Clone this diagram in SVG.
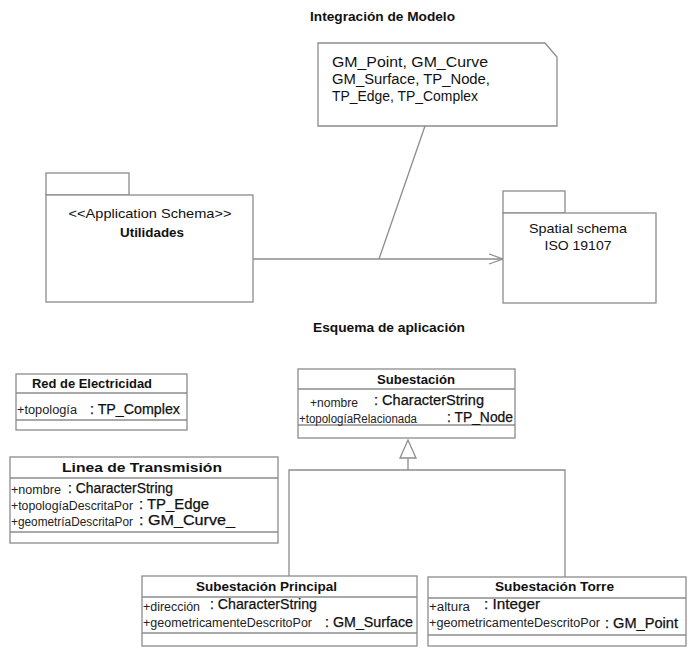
<svg xmlns="http://www.w3.org/2000/svg" width="696" height="655" viewBox="0 0 696 655">
<style>
.bx{fill:#fff;stroke:#8c8c8c;stroke-width:1.3}
.ln{fill:none;stroke:#8c8c8c;stroke-width:1.3}
text{font-family:"Liberation Sans",Arial,sans-serif;fill:#111}
.ttl{font-weight:bold;font-size:13px}
.ct{font-weight:bold;font-size:13px}
.nt{font-size:14px}
.pk{font-size:13px}
.at{font-size:12px;fill:#222}
.ty{font-size:14px;fill:#111;stroke:#111;stroke-width:0.25}
</style>
<defs>
<marker id="open" markerWidth="16" markerHeight="12" refX="15" refY="6" orient="auto" markerUnits="userSpaceOnUse">
<path d="M1,1 L15,6 L1,11" fill="none" stroke="#8c8c8c" stroke-width="1.3"/>
</marker>
</defs>
<rect width="696" height="655" fill="#fff"/>

<text class="ttl" x="310" y="21" textLength="145" lengthAdjust="spacingAndGlyphs">Integración de Modelo</text>
<text class="ttl" x="313" y="332" textLength="152" lengthAdjust="spacingAndGlyphs">Esquema de aplicación</text>

<g id="connectors">
<line class="ln" x1="253" y1="259" x2="503" y2="259" marker-end="url(#open)"/>
<line class="ln" x1="425" y1="126" x2="379" y2="259"/>
<polyline class="ln" points="408,458 408,470"/>
<polyline class="ln" points="289,576 289,470 565,470 565,577"/>
<polygon points="408,440 400,458 416,458" fill="#fff" stroke="#8c8c8c" stroke-width="1.3"/>
</g>

<g id="note">
<path class="bx" d="M318,43 H545 L557,57 V126 H318 Z"/>
<text class="nt" x="332" y="67" textLength="156" lengthAdjust="spacingAndGlyphs">GM_Point, GM_Curve</text>
<text class="nt" x="332" y="84" textLength="158" lengthAdjust="spacingAndGlyphs">GM_Surface, TP_Node,</text>
<text class="nt" x="332" y="101" textLength="146" lengthAdjust="spacingAndGlyphs">TP_Edge, TP_Complex</text>
</g>

<g id="utilidades">
<rect class="bx" x="46" y="173" width="83" height="22"/>
<rect class="bx" x="46" y="195" width="207" height="107"/>
<text class="pk" x="150" y="218" text-anchor="middle" textLength="163" lengthAdjust="spacingAndGlyphs">&lt;&lt;Application Schema&gt;&gt;</text>
<text class="ct" x="152" y="237" text-anchor="middle" textLength="64" lengthAdjust="spacingAndGlyphs">Utilidades</text>
</g>

<g id="spatial">
<rect class="bx" x="503" y="191" width="62" height="22"/>
<rect class="bx" x="503" y="213" width="153" height="90"/>
<text class="pk" x="578" y="233" text-anchor="middle" textLength="98" lengthAdjust="spacingAndGlyphs">Spatial schema</text>
<text class="pk" x="578" y="250" text-anchor="middle" textLength="67" lengthAdjust="spacingAndGlyphs">ISO 19107</text>
</g>

<g id="red">
<rect class="bx" x="16" y="374" width="171" height="56"/>
<line class="ln" x1="16" y1="393" x2="187" y2="393"/>
<line class="ln" x1="16" y1="420" x2="187" y2="420"/>
<text class="ct" x="32" y="388" textLength="120" lengthAdjust="spacingAndGlyphs">Red de Electricidad</text>
<text class="at" x="17" y="414" textLength="60" lengthAdjust="spacingAndGlyphs">+topología</text>
<text class="ty" x="90" y="414" textLength="90" lengthAdjust="spacingAndGlyphs">: TP_Complex</text>
</g>

<g id="subestacion">
<rect class="bx" x="298" y="369" width="217" height="69"/>
<line class="ln" x1="298" y1="389" x2="515" y2="389"/>
<line class="ln" x1="298" y1="425" x2="515" y2="425"/>
<text class="ct" x="377" y="384" textLength="78" lengthAdjust="spacingAndGlyphs">Subestación</text>
<text class="at" x="310" y="407" textLength="48" lengthAdjust="spacingAndGlyphs">+nombre</text>
<text class="ty" x="374" y="405" textLength="110" lengthAdjust="spacingAndGlyphs">: CharacterString</text>
<text class="at" x="299" y="423" textLength="118" lengthAdjust="spacingAndGlyphs">+topologíaRelacionada</text>
<text class="ty" x="447" y="422" textLength="66" lengthAdjust="spacingAndGlyphs">: TP_Node</text>
</g>

<g id="linea">
<rect class="bx" x="10" y="457" width="268" height="86"/>
<line class="ln" x1="10" y1="478" x2="278" y2="478"/>
<line class="ln" x1="10" y1="532" x2="278" y2="532"/>
<text class="ct" x="62" y="472" textLength="160" lengthAdjust="spacingAndGlyphs">Linea de Transmisión</text>
<text class="at" x="11" y="494" textLength="50" lengthAdjust="spacingAndGlyphs">+nombre</text>
<text class="ty" x="68" y="493" textLength="105" lengthAdjust="spacingAndGlyphs">: CharacterString</text>
<text class="at" x="11" y="510" textLength="122" lengthAdjust="spacingAndGlyphs">+topologíaDescritaPor</text>
<text class="ty" x="139" y="509" textLength="70" lengthAdjust="spacingAndGlyphs">: TP_Edge</text>
<text class="at" x="11" y="526" textLength="122" lengthAdjust="spacingAndGlyphs">+geometríaDescritaPor</text>
<text class="ty" x="139" y="525" textLength="96" lengthAdjust="spacingAndGlyphs">: GM_Curve_</text>
</g>

<g id="principal">
<rect class="bx" x="142" y="576" width="275" height="70"/>
<line class="ln" x1="142" y1="597" x2="417" y2="597"/>
<line class="ln" x1="142" y1="633" x2="417" y2="633"/>
<text class="ct" x="196" y="591" textLength="141" lengthAdjust="spacingAndGlyphs">Subestación Principal</text>
<text class="at" x="143" y="611" textLength="57" lengthAdjust="spacingAndGlyphs">+dirección</text>
<text class="ty" x="210" y="609" textLength="107" lengthAdjust="spacingAndGlyphs">: CharacterString</text>
<text class="at" x="143" y="627" textLength="169" lengthAdjust="spacingAndGlyphs">+geometricamenteDescritoPor</text>
<text class="ty" x="325" y="627" textLength="88" lengthAdjust="spacingAndGlyphs">: GM_Surface</text>
</g>

<g id="torre">
<rect class="bx" x="428" y="577" width="258" height="69"/>
<line class="ln" x1="428" y1="598" x2="686" y2="598"/>
<line class="ln" x1="428" y1="635" x2="686" y2="635"/>
<text class="ct" x="495" y="591" textLength="119" lengthAdjust="spacingAndGlyphs">Subestación Torre</text>
<text class="at" x="429" y="611" textLength="41" lengthAdjust="spacingAndGlyphs">+altura</text>
<text class="ty" x="484" y="609" textLength="56" lengthAdjust="spacingAndGlyphs">: Integer</text>
<text class="at" x="429" y="627" textLength="171" lengthAdjust="spacingAndGlyphs">+geometricamenteDescritoPor</text>
<text class="ty" x="605" y="628" textLength="73" lengthAdjust="spacingAndGlyphs">: GM_Point</text>
</g>
</svg>
